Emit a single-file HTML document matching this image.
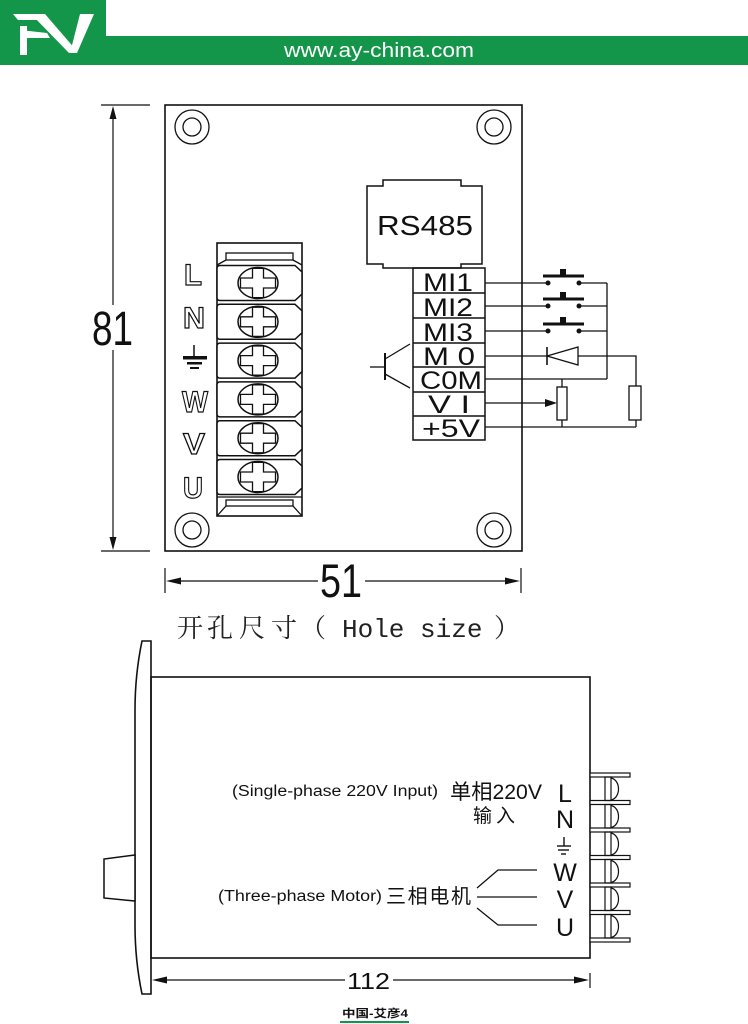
<!DOCTYPE html>
<html><head><meta charset="utf-8"><style>html,body{margin:0;padding:0;background:#fff;}svg{display:block;}</style></head>
<body>
<svg width="748" height="1024" viewBox="0 0 748 1024" xmlns="http://www.w3.org/2000/svg" font-family="'Liberation Sans', sans-serif">
<defs>
<g id="tr">
 <path d="M220,-17.5 H295 L302,-11 V11 L295,17.5 H220 Q217,17.5 217,14.5 V-14.5 Q217,-17.5 220,-17.5 Z" fill="#fff" stroke="#111" stroke-width="1.5"/>
 <ellipse cx="258" cy="0" rx="20" ry="15.5" fill="#fff" stroke="#111" stroke-width="1.5"/>
 <path d="M252.5,-14.6 H263.5 V-5 H275.5 V5 H263.5 V14.6 H252.5 V5 H240.5 V-5 H252.5 Z" fill="none" stroke="#111" stroke-width="1.3"/>
</g>
</defs>

<!-- Header -->
<rect x="0" y="0" width="106" height="65" fill="#13964a"/>
<rect x="0" y="36" width="748" height="29" fill="#13964a"/>
<g fill="#fff">
 <polygon points="13,14 37,14 41,20 18,20"/>
 <polygon points="31,14 45,14 76,50 69,53"/>
 <polygon points="80,14 94,14 77,53 70,53"/>
 <rect x="20" y="26" width="7" height="29"/>
 <polygon points="20,30 47,33 50,38 20,38"/>
</g>
<text x="284" y="57" font-size="20" fill="#fff" textLength="190" lengthAdjust="spacingAndGlyphs">www.ay-china.com</text>

<!-- Top drawing: dimension 81 -->
<g stroke="#111" stroke-width="1.2" fill="none">
 <line x1="101" y1="105" x2="150" y2="105"/>
 <line x1="101" y1="551" x2="150" y2="551"/>
 <line x1="113" y1="112" x2="113" y2="305"/>
 <line x1="113" y1="350" x2="113" y2="545"/>
</g>
<polygon points="113,106 109.5,119 116.5,119" fill="#111"/>
<polygon points="113,550 109.5,537 116.5,537" fill="#111"/>
<text x="92" y="345" font-size="48" fill="#111" textLength="41" lengthAdjust="spacingAndGlyphs">81</text>

<!-- main rect -->
<rect x="165" y="105" width="357" height="446" fill="none" stroke="#111" stroke-width="1.6"/>
<g fill="none" stroke="#111" stroke-width="1.3">
 <circle cx="192" cy="127" r="17"/><circle cx="192" cy="127" r="9"/>
 <circle cx="494" cy="127" r="17"/><circle cx="494" cy="127" r="9"/>
 <circle cx="192" cy="530" r="17"/><circle cx="192" cy="530" r="9"/>
 <circle cx="494" cy="530" r="17"/><circle cx="494" cy="530" r="9"/>
</g>

<!-- terminal block -->
<rect x="217" y="243" width="85" height="273" fill="#fff" stroke="#111" stroke-width="1.6"/>
<g fill="none" stroke="#111" stroke-width="1.3">
 <rect x="226" y="253" width="67" height="7"/>
 <line x1="226" y1="260" x2="217" y2="265"/>
 <line x1="293" y1="260" x2="302" y2="265"/>
 <rect x="226" y="500" width="67" height="6"/>
 <line x1="226" y1="506" x2="217" y2="516"/>
 <line x1="293" y1="506" x2="302" y2="516"/>
 <line x1="217" y1="497" x2="302" y2="497"/>
</g>
<use href="#tr" transform="translate(0,283)"/>
<use href="#tr" transform="translate(0,321.8)"/>
<use href="#tr" transform="translate(0,360.6)"/>
<use href="#tr" transform="translate(0,399.4)"/>
<use href="#tr" transform="translate(0,438.2)"/>
<use href="#tr" transform="translate(0,477)"/>

<!-- outlined labels -->
<g font-size="30" font-weight="bold" fill="#fff" stroke="#111" stroke-width="1.2" text-anchor="middle">
 <text x="193" y="285" textLength="18" lengthAdjust="spacingAndGlyphs">L</text>
 <text x="194" y="328" textLength="22" lengthAdjust="spacingAndGlyphs">N</text>
 <text x="195" y="412" textLength="26" lengthAdjust="spacingAndGlyphs">W</text>
 <text x="194" y="454" textLength="22" lengthAdjust="spacingAndGlyphs">V</text>
 <text x="193" y="498" textLength="20" lengthAdjust="spacingAndGlyphs">U</text>
</g>
<g stroke="#111" fill="#111">
 <line x1="194" y1="345" x2="194" y2="356" stroke-width="1.5"/>
 <rect x="183" y="356" width="24" height="3.5" stroke="none"/>
 <rect x="187" y="362" width="15" height="2.5" stroke="none"/>
 <rect x="190" y="367" width="9" height="2" stroke="none"/>
</g>

<!-- RS485 box -->
<path d="M367,186 H383 V180 H461 V186 H482 V264 H461 V268 H383 V264 H367 Z" fill="none" stroke="#111" stroke-width="1.5"/>
<text x="377" y="235" font-size="28" fill="#111" textLength="96" lengthAdjust="spacingAndGlyphs">RS485</text>

<!-- I/O terminal box -->
<g fill="none" stroke="#111" stroke-width="1.5">
 <rect x="413" y="268" width="72" height="172"/>
 <line x1="413" y1="293" x2="485" y2="293"/>
 <line x1="413" y1="318" x2="485" y2="318"/>
 <line x1="413" y1="343" x2="485" y2="343"/>
 <line x1="413" y1="367" x2="485" y2="367"/>
 <line x1="413" y1="392" x2="485" y2="392"/>
 <line x1="413" y1="416" x2="485" y2="416"/>
</g>
<g font-size="25" fill="#111" lengthAdjust="spacingAndGlyphs">
 <text x="423" y="291" textLength="50" lengthAdjust="spacingAndGlyphs">MI1</text>
 <text x="423" y="316" textLength="50" lengthAdjust="spacingAndGlyphs">MI2</text>
 <text x="423" y="341" textLength="50" lengthAdjust="spacingAndGlyphs">MI3</text>
 <text x="423" y="365" textLength="52" lengthAdjust="spacingAndGlyphs">M 0</text>
 <text x="420" y="389" textLength="62" lengthAdjust="spacingAndGlyphs">C0M</text>
 <text x="428" y="413" textLength="42" lengthAdjust="spacingAndGlyphs">V I</text>
 <text x="422" y="437" textLength="58" lengthAdjust="spacingAndGlyphs">+5V</text>
</g>

<!-- wiring -->
<g fill="none" stroke="#111" stroke-width="1.3">
 <line x1="485" y1="283" x2="548" y2="283"/><line x1="579" y1="283" x2="607" y2="283"/>
 <line x1="485" y1="306" x2="548" y2="306"/><line x1="579" y1="306" x2="607" y2="306"/>
 <line x1="485" y1="331" x2="548" y2="331"/><line x1="579" y1="331" x2="607" y2="331"/>
 <line x1="607" y1="283" x2="607" y2="379"/>
 <line x1="485" y1="356" x2="547" y2="356"/>
 <polyline points="578,356 636,356 636,386"/>
 <rect x="629" y="386" width="12" height="34"/>
 <line x1="636" y1="420" x2="636" y2="427"/>
 <line x1="485" y1="427" x2="636" y2="427"/>
 <line x1="485" y1="379" x2="607" y2="379"/>
 <line x1="562" y1="379" x2="562" y2="387"/>
 <rect x="557" y="387" width="10" height="33"/>
 <line x1="562" y1="420" x2="562" y2="427"/>
 <line x1="485" y1="403" x2="546" y2="403"/>
 <polygon points="547,356 578,347 578,365"/>
 <line x1="547" y1="347" x2="547" y2="365" stroke-width="1.6"/>
 <!-- transistor -->
 <line x1="385" y1="353" x2="385" y2="380" stroke-width="2"/>
 <line x1="370" y1="367" x2="385" y2="367"/>
 <line x1="385" y1="359" x2="410" y2="344"/>
 <line x1="385" y1="374" x2="410" y2="388"/>
</g>
<polygon points="557,403 545,399 545,407" fill="#111"/>
<g fill="#111">
 <circle cx="548" cy="283" r="2.5"/><circle cx="579" cy="283" r="2.5"/>
 <rect x="543" y="274.5" width="41" height="3"/><rect x="560" y="269" width="6" height="6"/>
 <circle cx="548" cy="306" r="2.5"/><circle cx="579" cy="306" r="2.5"/>
 <rect x="543" y="297.5" width="41" height="3"/><rect x="560" y="292" width="6" height="6"/>
 <circle cx="548" cy="331" r="2.5"/><circle cx="579" cy="331" r="2.5"/>
 <rect x="543" y="322.5" width="41" height="3"/><rect x="560" y="317" width="6" height="6"/>
</g>

<!-- dimension 51 -->
<g stroke="#111" stroke-width="1.2" fill="none">
 <line x1="165" y1="568" x2="165" y2="593"/>
 <line x1="521" y1="568" x2="521" y2="593"/>
 <line x1="178" y1="581" x2="318" y2="581"/>
 <line x1="365" y1="581" x2="508" y2="581"/>
</g>
<polygon points="166,581 181,577.5 181,584.5" fill="#111"/>
<polygon points="520,581 505,577.5 505,584.5" fill="#111"/>
<text x="320" y="597" font-size="47" fill="#111" textLength="42" lengthAdjust="spacingAndGlyphs">51</text>

<!-- hole size -->
<g font-size="26" fill="#222" font-family="'Liberation Serif','Noto Serif CJK SC',serif">
 <text x="177" y="637">开</text>
 <text x="207" y="637">孔</text>
 <text x="239" y="637">尺</text>
 <text x="271" y="637">寸</text>
 <text x="300" y="637">（</text>
 <text x="494" y="637">）</text>
</g>
<text x="342" y="637" font-size="26" fill="#222" font-family="'Liberation Mono', monospace">Hole size</text>

<!-- Bottom drawing -->
<path d="M151,641 H142 C137,665 135,690 135,710 V925 C135,945 137,970 142,994 H151 Z" fill="#fff" stroke="#111" stroke-width="1.6"/>
<polygon points="135,855 104,859 104,898 135,901" fill="#fff" stroke="#111" stroke-width="1.5"/>
<rect x="151" y="677" width="439" height="281" fill="none" stroke="#111" stroke-width="1.6"/>

<!-- right terminal strip -->
<g fill="#fff" stroke="#111" stroke-width="1.2">
 <rect x="590" y="773" width="40" height="4"/>
 <rect x="590" y="800.5" width="40" height="4"/>
 <rect x="590" y="828" width="40" height="4"/>
 <rect x="590" y="855.5" width="40" height="4"/>
 <rect x="590" y="883" width="40" height="4"/>
 <rect x="590" y="910.5" width="40" height="4"/>
 <rect x="590" y="938" width="40" height="4"/>
</g>
<g fill="none" stroke="#111" stroke-width="1.2">
 <rect x="605" y="777" width="6" height="23.5"/><path d="M611,778 C621,780 621,798 611,800"/>
 <rect x="605" y="804.5" width="6" height="23.5"/><path d="M611,805.5 C621,807.5 621,825.5 611,827.5"/>
 <rect x="605" y="832" width="6" height="23.5"/><path d="M611,833 C621,835 621,853 611,855"/>
 <rect x="605" y="859.5" width="6" height="23.5"/><path d="M611,860.5 C621,862.5 621,880.5 611,882.5"/>
 <rect x="605" y="887" width="6" height="23.5"/><path d="M611,888 C621,890 621,908 611,910"/>
 <rect x="605" y="914.5" width="6" height="23.5"/><path d="M611,915.5 C621,917.5 621,935.5 611,937.5"/>
</g>

<g font-size="25" fill="#111" text-anchor="middle">
 <text x="565" y="802">L</text>
 <text x="565" y="828">N</text>
 <text x="565" y="881">W</text>
 <text x="565" y="908">V</text>
 <text x="565" y="936">U</text>
</g>
<g stroke="#111" stroke-width="1.4">
 <line x1="564" y1="837" x2="564" y2="846"/>
 <line x1="557" y1="846" x2="571" y2="846"/>
 <line x1="558" y1="850" x2="569" y2="850"/>
 <line x1="561" y1="854" x2="566" y2="854"/>
</g>

<!-- left labels -->
<text x="232" y="796" font-size="15.5" fill="#111" textLength="206" lengthAdjust="spacingAndGlyphs">(Single-phase 220V Input)</text>
<text x="450" y="799" font-size="21" fill="#111" font-family="'Liberation Sans','Noto Sans CJK SC',sans-serif" textLength="92" lengthAdjust="spacingAndGlyphs">单相220V</text>
<text x="473" y="822" font-size="19" fill="#111" font-family="'Liberation Sans','Noto Sans CJK SC',sans-serif" textLength="42" lengthAdjust="spacing">输入</text>
<text x="218" y="901" font-size="15.5" fill="#111" textLength="164" lengthAdjust="spacingAndGlyphs">(Three-phase Motor)</text>
<text x="386" y="903" font-size="20" fill="#111" font-family="'Liberation Sans','Noto Sans CJK SC',sans-serif" textLength="85" lengthAdjust="spacing">三相电机</text>
<g fill="none" stroke="#111" stroke-width="1.3">
 <polyline points="477,888 498,870 537,870"/>
 <line x1="477" y1="897" x2="537" y2="897"/>
 <polyline points="477,908 498,925 537,925"/>
</g>

<!-- dimension 112 -->
<g stroke="#111" stroke-width="1.2" fill="none">
 <line x1="165" y1="980" x2="345" y2="980"/>
 <line x1="393" y1="980" x2="576" y2="980"/>
 <line x1="590" y1="973" x2="590" y2="988"/>
</g>
<polygon points="152,980 167,976.5 167,983.5" fill="#111"/>
<polygon points="589,980 574,976.5 574,983.5" fill="#111"/>
<text x="347" y="989" font-size="23" fill="#111" textLength="43" lengthAdjust="spacingAndGlyphs">112</text>

<text x="342" y="1017" font-size="11" font-weight="bold" fill="#111" font-family="'Liberation Sans','Noto Sans CJK SC',sans-serif" textLength="66" lengthAdjust="spacingAndGlyphs">中国-艾彦4</text>
<rect x="340" y="1021" width="69" height="2" fill="#13964a"/>
</svg>
</body></html>
